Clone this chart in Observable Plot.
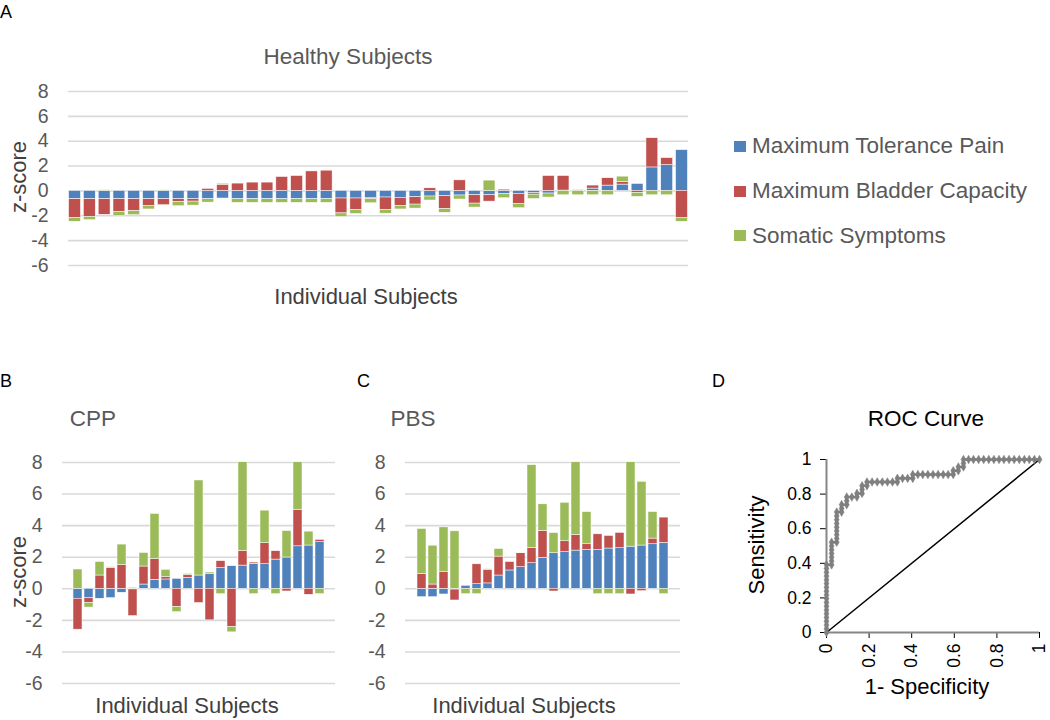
<!DOCTYPE html>
<html>
<head>
<meta charset="utf-8">
<script src="https://cdn.jsdelivr.net/npm/d3@7"></script>
<script src="https://cdn.jsdelivr.net/npm/@observablehq/plot@0.6"></script>
<style>
  html, body { margin: 0; padding: 0; background: #fff; }
  body { font-family: "Liberation Sans", Arial, sans-serif; }
  #root { position: relative; width: 1050px; height: 720px; overflow: hidden; background: #fff; }
  .panel { position: absolute; }
  .lbl { position: absolute; white-space: nowrap; line-height: 1; }
  .sw { position: absolute; width: 12px; height: 11px; }
</style>
</head>
<body>
<div id="root"></div>
<script>
// ---------------- DATA ----------------
const seriesNames = ["Maximum Tolerance Pain", "Maximum Bladder Capacity", "Somatic Symptoms"];
const seriesColors = ["#4f81bd", "#c0504d", "#9bbb59"];
const zTicks = [-6, -4, -2, 0, 2, 4, 6, 8];

// Panel A – Healthy Subjects (42 subjects)
const healthyPain = [-0.67, -0.67, -0.67, -0.67, -0.67, -0.67, -0.67, -0.67, -0.67, -0.67,
  -0.61, -0.67, -0.67, -0.67, -0.67, -0.67, -0.67, -0.67, -0.61, -0.61,
  -0.56, -0.53, -0.56, -0.51, -0.45, -0.43, -0.37, -0.35, -0.35, -0.27,
  -0.24, -0.19, -0.21, 0.03, 0.02, 0.19, 0.43, 0.51, 0.56, 1.89, 2.08, 3.28];
const healthyBladder = [-1.52, -1.41, -1.25, -1.04, -0.96, -0.53, -0.48, -0.24, -0.19, 0.16,
  0.50, 0.59, 0.67, 0.67, 1.12, 1.20, 1.57, 1.63, -1.20, -0.93,
  -0.11, -1.01, -0.64, -0.59, 0.21, -1.04, 0.85, -0.67, -0.51, 0.10,
  -0.83, -0.11, 1.20, 1.17, 0.04, 0.24, 0.59, 0.21, -0.16, 2.35, 0.56, -2.16];
const healthySomatic = [-0.29, -0.27, 0.06, -0.32, -0.32, -0.29, 0.05, -0.32, -0.32, -0.27,
  0.08, -0.29, -0.29, -0.29, -0.29, -0.29, -0.29, -0.29, -0.29, -0.32,
  -0.32, -0.29, -0.29, -0.32, -0.32, -0.29, -0.32, -0.32, 0.83, -0.32,
  -0.32, -0.35, -0.32, -0.35, -0.35, -0.35, -0.35, 0.43, -0.32, -0.35, -0.35, -0.32];

// Panel B – CPP (23 subjects)
const cppPain = [-0.63, -0.59, -0.63, -0.59, -0.25, -0.04, 0.27, 0.57, 0.59, 0.63, 0.69, 0.84,
  0.95, 1.31, 1.43, 1.47, 1.58, 1.56, 1.85, 1.98, 2.69, 2.74, 2.95];
const cppBladder = [-1.96, -0.30, 0.84, 1.33, 1.52, -1.69, 1.14, 1.31, 0.15, -1.16, 0.19, -0.90,
  -2.00, 0.44, -2.42, 0.93, 0.08, 1.33, 0.53, -0.17, 2.32, -0.38, 0.15];
const cppSomatic = [1.22, -0.30, 0.86, 0.04, 1.28, 0.06, 0.86, 2.86, 0.46, -0.32, 0.06, 6.02,
  0.08, -0.34, -0.34, 6.00, -0.34, 2.06, -0.34, 1.68, 3.60, 0.88, -0.34];

// Panel C – PBS (23 subjects)
const pbsPain = [-0.53, -0.53, -0.36, -0.05, 0.19, 0.29, 0.34, 0.84, 1.16, 1.37, 1.62, 1.96,
  2.25, 2.32, 2.42, 2.46, 2.46, 2.55, 2.57, 2.67, 2.74, 2.82, 2.91];
const pbsBladder = [0.93, 0.27, 1.05, -0.69, 0.00, 1.26, 0.84, 1.20, 0.53, 0.88, 0.97, 1.71,
  -0.17, 0.69, 0.99, 0.36, 0.99, 0.80, 0.97, -0.36, -0.15, 0.36, 1.60];
const pbsSomatic = [2.86, 2.46, 2.84, 3.64, -0.34, -0.34, 0.06, 0.48, 0.04, 0.04, 5.24, 1.68,
  1.28, 2.44, 5.00, 2.04, -0.34, -0.34, -0.34, 5.80, 4.04, 1.68, -0.34];

// Panel D – ROC curve
const rocTicks = [0, 0.2, 0.4, 0.6, 0.8, 1];
const rocFpr = [0, 0, 0, 0, 0, 0, 0, 0, 0, 0, 0, 0, 0, 0, 0, 0, 0, 0, 0,
  0.024, 0.024, 0.024, 0.024, 0.024, 0.024, 0.024,
  0.048, 0.048, 0.048, 0.048, 0.048, 0.048, 0.048, 0.048, 0.048,
  0.071, 0.071, 0.071, 0.095, 0.095, 0.095, 0.119, 0.143, 0.143,
  0.167, 0.167, 0.167, 0.190, 0.190,
  0.214, 0.238, 0.262, 0.286, 0.310, 0.333,
  0.333, 0.357, 0.381, 0.405,
  0.405, 0.429, 0.452, 0.476, 0.500, 0.524, 0.548, 0.571, 0.595,
  0.595, 0.619, 0.619, 0.643, 0.643, 0.643,
  0.667, 0.690, 0.714, 0.738, 0.762, 0.786, 0.810, 0.833, 0.857, 0.881, 0.905, 0.929, 0.952, 0.976, 1];
const rocTpr = [0, 0.022, 0.043, 0.065, 0.087, 0.109, 0.130, 0.152, 0.174, 0.196, 0.217, 0.239, 0.261, 0.283, 0.304, 0.326, 0.348, 0.370, 0.391,
  0.391, 0.413, 0.435, 0.457, 0.478, 0.500, 0.522,
  0.522, 0.543, 0.565, 0.587, 0.609, 0.630, 0.652, 0.674, 0.696,
  0.696, 0.717, 0.739, 0.739, 0.761, 0.783, 0.783, 0.783, 0.804,
  0.804, 0.826, 0.848, 0.848, 0.870,
  0.870, 0.870, 0.870, 0.870, 0.870, 0.870,
  0.891, 0.891, 0.891, 0.891,
  0.913, 0.913, 0.913, 0.913, 0.913, 0.913, 0.913, 0.913, 0.913,
  0.935, 0.935, 0.957, 0.957, 0.978, 1,
  1, 1, 1, 1, 1, 1, 1, 1, 1, 1, 1, 1, 1, 1, 1];
const chanceFpr = [0, 1];
const chanceTpr = [0, 1];

// ---------------- BUILD ----------------
const root = document.getElementById("root");

function toRows(pain, bladder, somatic) {
  const out = [];
  pain.forEach((_, i) => {
    out.push({subject: i + 1, series: seriesNames[0], value: pain[i]});
    out.push({subject: i + 1, series: seriesNames[1], value: bladder[i]});
    out.push({subject: i + 1, series: seriesNames[2], value: somatic[i]});
  });
  return out;
}

function place(el, left, top) {
  const d = document.createElement("div");
  d.className = "panel";
  d.style.left = left + "px";
  d.style.top = top + "px";
  d.appendChild(el);
  root.appendChild(d);
}

function label(text, x, y, opts = {}) {
  const d = document.createElement("div");
  d.className = "lbl";
  d.textContent = text;
  d.style.fontSize = (opts.size || 22) + "px";
  d.style.color = opts.color || "#404040";
  d.style.left = x + "px";
  d.style.top = y + "px";
  const tx = opts.anchor === "start" ? "0" : "-50%";
  d.style.transform = `translate(${tx}, -50%)` + (opts.rotate ? " rotate(-90deg)" : "");
  root.appendChild(d);
}

const baseStyle = {
  fontFamily: '"Liberation Sans", Arial, sans-serif',
  fontSize: "19.5px",
  color: "#595959",
  background: "transparent",
  overflow: "visible"
};

function barPanel(data, o) {
  return Plot.plot({
    width: o.width, height: o.height,
    marginLeft: o.ml, marginRight: o.mr, marginTop: o.mt, marginBottom: o.mb,
    style: baseStyle,
    x: {type: "band", axis: null, paddingInner: o.pi, paddingOuter: o.po},
    y: {domain: [-6, 8], ticks: zTicks, tickFormat: d => String(d), tickSize: 0, tickPadding: 20, label: null},
    color: {domain: seriesNames, range: seriesColors},
    marks: [
      Plot.ruleY(zTicks, {stroke: "#d9d9d9", strokeWidth: 1.6}),
      Plot.barY(data, Plot.stackY({
        x: "subject", y: "value", fill: "series",
        stroke: "#ffffff", strokeWidth: 0.5, clip: true
      }))
    ]
  });
}

// Panel A
place(barPanel(toRows(healthyPain, healthyBladder, healthySomatic),
  {width: 700, height: 194, ml: 68, mr: 12, mt: 10, mb: 10, pi: 0.2, po: 0.04}), 0, 81);
// Panel B
place(barPanel(toRows(cppPain, cppBladder, cppSomatic),
  {width: 345, height: 245, ml: 62, mr: 10, mt: 12, mb: 12, pi: 0.22, po: 0.1}), 0, 450);
// Panel C
place(barPanel(toRows(pbsPain, pbsBladder, pbsSomatic),
  {width: 350, height: 245, ml: 65, mr: 10, mt: 12, mb: 12, pi: 0.22, po: 0.1}), 340, 450);

// Panel D – ROC
const rocData = rocFpr.map((f, i) => ({fpr: f, tpr: rocTpr[i]}));
const chanceData = chanceFpr.map((f, i) => ({fpr: f, tpr: chanceTpr[i]}));
const roc = Plot.plot({
  width: 320, height: 290,
  marginLeft: 96, marginRight: 11, marginTop: 29, marginBottom: 88,
  style: {...baseStyle, fontSize: "17.5px", color: "#000000"},
  x: {domain: [0, 1], ticks: rocTicks, tickFormat: d => String(d), tickRotate: -90, tickSize: 6, tickPadding: 5, label: null},
  y: {domain: [0, 1], ticks: rocTicks, tickFormat: d => String(d), tickSize: 6, tickPadding: 9, label: null},
  marks: [
    Plot.ruleX([0], {stroke: "#868686", strokeWidth: 2}),
    Plot.ruleY([0], {stroke: "#868686", strokeWidth: 2}),
    Plot.line(chanceData, {x: "fpr", y: "tpr", stroke: "#000000", strokeWidth: 1.5}),
    Plot.line(rocData, {x: "fpr", y: "tpr", stroke: "#7f7f7f", strokeWidth: 2.5}),
    Plot.dot(rocData, {x: "fpr", y: "tpr", symbol: "diamond", r: 2.6, fill: "#7f7f7f", stroke: "#7f7f7f", strokeWidth: 0.5})
  ]
});
place(roc, 730, 430);

// ---------------- TEXT ----------------
label("A", 0, 12, {size: 18, color: "#000", anchor: "start"});
label("B", 0, 381, {size: 18, color: "#000", anchor: "start"});
label("C", 357, 381, {size: 18, color: "#000", anchor: "start"});
label("D", 712, 381, {size: 18, color: "#000", anchor: "start"});

label("Healthy Subjects", 348, 57, {size: 22.5, color: "#595959"});
label("CPP", 93, 419, {size: 22.5, color: "#595959"});
label("PBS", 413, 419, {size: 22.5, color: "#595959"});
label("ROC Curve", 926, 419, {size: 22.5, color: "#000"});

label("z-score", 19, 177, {size: 22, rotate: true});
label("z-score", 19, 572, {size: 22, rotate: true});
label("Individual Subjects", 366, 297, {size: 22});
label("Individual Subjects", 187, 706, {size: 22});
label("Individual Subjects", 524, 706, {size: 22});
label("Sensitivity", 757, 545, {size: 22, color: "#000", rotate: true});
label("1- Specificity", 927, 687, {size: 22, color: "#000"});

// Legend
const legendY = [146, 191, 235.5];
seriesNames.forEach((name, i) => {
  const sw = document.createElement("div");
  sw.className = "sw";
  sw.style.left = "734px";
  sw.style.top = (legendY[i] - 5.5) + "px";
  sw.style.background = seriesColors[i];
  root.appendChild(sw);
  label(name, 752, legendY[i], {size: 22.5, color: "#595959", anchor: "start"});
});
</script>
</body>
</html>
